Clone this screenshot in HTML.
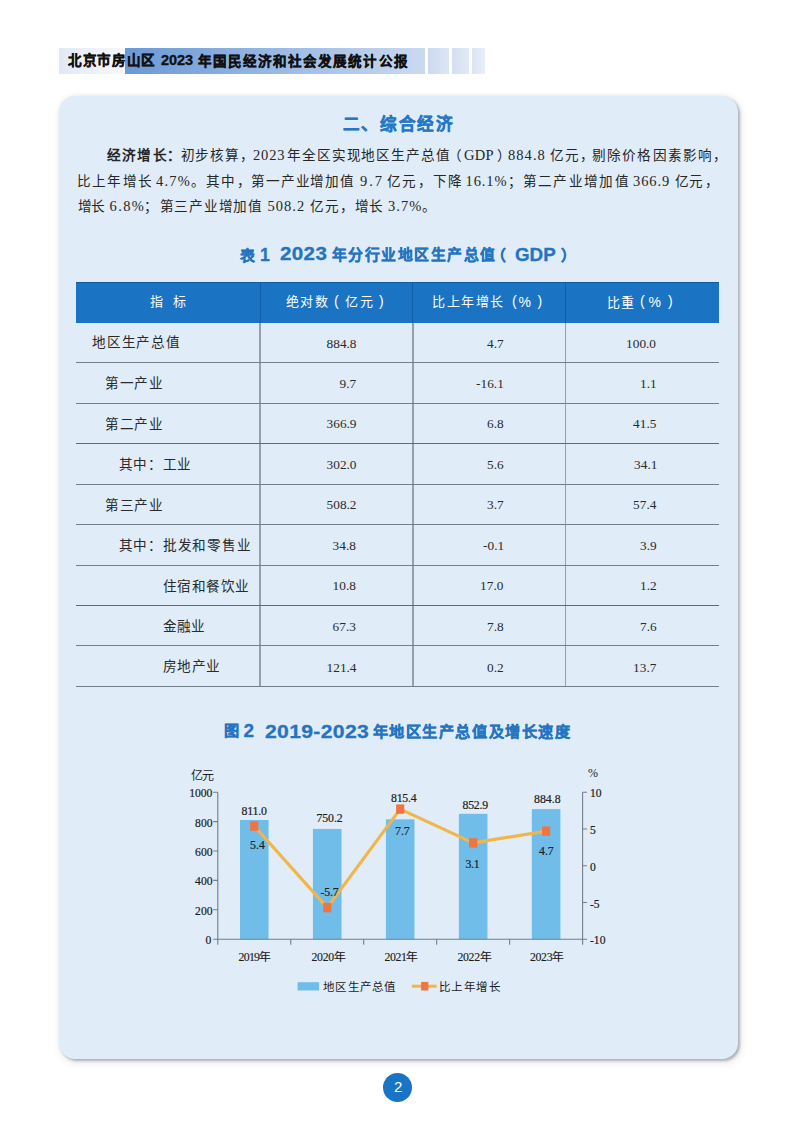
<!DOCTYPE html>
<html lang="zh-CN">
<head>
<meta charset="utf-8">
<style>
html,body{margin:0;padding:0;}
body{width:794px;height:1123px;position:relative;overflow:hidden;background:#fff;}
.abs{position:absolute;}
.t{white-space:nowrap;line-height:1.2;}
</style>
</head>
<body>
<div class="abs" style="left:59px;top:48px;width:66px;height:26px;background:linear-gradient(90deg,#e2e9f6,#f6f8fc);"></div>
<div class="abs" style="left:125px;top:48px;width:299.5px;height:26px;background:linear-gradient(90deg,#6b99d5 0%,#93b5e3 45%,#cbdaf1 100%);"></div>
<div class="abs" style="left:428.2px;top:48px;width:20.6px;height:26px;background:linear-gradient(90deg,#ccd9f0,#dde6f5);"></div>
<div class="abs" style="left:452px;top:48px;width:17px;height:26px;background:linear-gradient(90deg,#d5dff2,#e2e9f6);"></div>
<div class="abs" style="left:471.7px;top:48px;width:13.6px;height:26px;background:linear-gradient(90deg,#dce4f4,#e9eef8);"></div>
<div class="abs" style="left:59px;top:95.5px;width:679px;height:963.5px;background:#e0edf8;border-radius:16px;box-shadow:2px 2px 2.5px rgba(95,105,115,0.42),2px 3px 8px rgba(60,60,60,0.14),0 -1px 4px rgba(60,60,60,0.05);"></div>
<div class="abs" style="left:76px;top:282px;width:643px;height:40.5px;background:#1a74c3;"></div>
<div class="abs" style="left:76px;top:281.5px;width:643px;height:1.2px;background:#0f5b9f;"></div>
<div class="abs" style="left:259.50px;top:282px;width:1.4px;height:40.5px;background:#125ea6;"></div>
<div class="abs" style="left:259.40px;top:322.5px;width:1.6px;height:364px;background:#94a0ab;"></div>
<div class="abs" style="left:412.10px;top:282px;width:1.4px;height:40.5px;background:#125ea6;"></div>
<div class="abs" style="left:412.00px;top:322.5px;width:1.6px;height:364px;background:#94a0ab;"></div>
<div class="abs" style="left:564.80px;top:282px;width:1.4px;height:40.5px;background:#125ea6;"></div>
<div class="abs" style="left:564.70px;top:322.5px;width:1.6px;height:364px;background:#94a0ab;"></div>
<div class="abs" style="left:76px;top:361.85px;width:643px;height:1.1px;background:#737f8a;"></div>
<div class="abs" style="left:76px;top:402.75px;width:643px;height:1.1px;background:#737f8a;"></div>
<div class="abs" style="left:76px;top:442.85px;width:643px;height:1.1px;background:#5f6b76;"></div>
<div class="abs" style="left:76px;top:483.75px;width:643px;height:1.1px;background:#737f8a;"></div>
<div class="abs" style="left:76px;top:524.15px;width:643px;height:1.1px;background:#737f8a;"></div>
<div class="abs" style="left:76px;top:564.85px;width:643px;height:1.1px;background:#737f8a;"></div>
<div class="abs" style="left:76px;top:604.95px;width:643px;height:1.1px;background:#5f6b76;"></div>
<div class="abs" style="left:76px;top:644.95px;width:643px;height:1.1px;background:#737f8a;"></div>
<div class="abs" style="left:76px;top:685.75px;width:643px;height:1.1px;background:#737f8a;"></div>
<svg class="abs" style="left:0;top:0;" width="794" height="1123" viewBox="0 0 794 1123">
<rect x="239.98" y="819.98" width="28.6" height="119.22" fill="#70bdea"/>
<rect x="312.94" y="828.92" width="28.6" height="110.28" fill="#70bdea"/>
<rect x="385.90" y="819.34" width="28.6" height="119.86" fill="#70bdea"/>
<rect x="458.86" y="813.82" width="28.6" height="125.38" fill="#70bdea"/>
<rect x="531.82" y="809.13" width="28.6" height="130.07" fill="#70bdea"/>
<path d="M217.8 792.2 V944.7 M213.20000000000002 939.2 H587.0 M582.6 792.2 V944.7 M213.20000000000002 939.20 H217.8 M213.20000000000002 909.80 H217.8 M213.20000000000002 880.40 H217.8 M213.20000000000002 851.00 H217.8 M213.20000000000002 821.60 H217.8 M213.20000000000002 792.20 H217.8 M582.6 792.20 H587.0 M582.6 828.95 H587.0 M582.6 865.70 H587.0 M582.6 902.45 H587.0 M582.6 939.20 H587.0 M290.76 939.2 V944.7 M363.72 939.2 V944.7 M436.68 939.2 V944.7 M509.64 939.2 V944.7" stroke="#737e89" stroke-width="1.1" fill="none"/>
<polyline points="254.28,826.01 327.24,907.60 400.20,809.11 473.16,842.92 546.12,831.16" stroke="#f2b547" stroke-width="3.2" fill="none" stroke-linejoin="round"/>
<rect x="250.18" y="821.31" width="8.2" height="9.4" fill="#f0743f"/>
<rect x="323.14" y="902.89" width="8.2" height="9.4" fill="#f0743f"/>
<rect x="396.10" y="804.40" width="8.2" height="9.4" fill="#f0743f"/>
<rect x="469.06" y="838.22" width="8.2" height="9.4" fill="#f0743f"/>
<rect x="542.02" y="826.46" width="8.2" height="9.4" fill="#f0743f"/>
<rect x="297.6" y="982.2" width="21.5" height="8.3" fill="#70bdea"/>
<path d="M411.8 986.2 H436.7" stroke="#f2b547" stroke-width="3"/>
<rect x="421.1" y="981.9" width="7.3" height="8.6" fill="#f0743f"/>
</svg>
<div class="abs" style="left:382.6px;top:1072.9px;width:29.4px;height:29.4px;border-radius:50%;background:#1a74c6;"></div>
<div class="abs t" id="hdr" style="left:68.00px;top:53.40px;font-size:13.5px;font-family:'Liberation Sans',sans-serif;font-weight:bold;color:#111;letter-spacing:1.700px;-webkit-text-stroke:0.35px #111;">北京市房山区</div>
<div class="abs t" id="hdr2" style="left:161.00px;top:51.80px;font-size:14.5px;font-family:'Liberation Sans',sans-serif;font-weight:bold;color:#111;letter-spacing:-0.099px;-webkit-text-stroke:0.35px #111;">2023</div>
<div class="abs t" id="hdr3" style="left:198.00px;top:53.80px;font-size:13.5px;font-family:'Liberation Sans',sans-serif;font-weight:bold;color:#111;letter-spacing:2.045px;-webkit-text-stroke:0.35px #111;">年国民经济和社会发展统计公报</div>
<div class="abs t" id="title" style="left:342.50px;top:115.20px;font-size:16.5px;font-family:'Liberation Sans',sans-serif;font-weight:bold;color:#2678c4;letter-spacing:1.720px;-webkit-text-stroke:0.5px #2678c4;">二、综合经济</div>
<div class="abs t" id="p1a" style="left:107.00px;top:148.05px;font-size:13.6px;font-family:'Liberation Sans',sans-serif;font-weight:bold;color:#262626;letter-spacing:1.232px;">经济增长</div>
<div class="abs t" id="p1b" style="left:166.50px;top:148.05px;font-size:13.6px;font-family:'Liberation Sans',sans-serif;font-weight:bold;color:#262626;letter-spacing:0.000px;">：</div>
<div class="abs t" id="p1c" style="left:180.50px;top:148.05px;font-size:13.6px;font-family:'Liberation Serif',serif;font-weight:normal;color:#262626;letter-spacing:0.866px;">初步核算</div>
<div class="abs t" id="p1d" style="left:239.50px;top:148.05px;font-size:13.6px;font-family:'Liberation Serif',serif;font-weight:normal;color:#262626;letter-spacing:0.000px;">，</div>
<div class="abs t" id="p1e" style="left:253.00px;top:147.05px;font-size:14.5px;font-family:'Liberation Serif',serif;font-weight:normal;color:#262626;letter-spacing:0.832px;">2023</div>
<div class="abs t" id="p1f" style="left:287.00px;top:148.05px;font-size:13.6px;font-family:'Liberation Serif',serif;font-weight:normal;color:#262626;letter-spacing:0.900px;">年全区实现地区生产总值</div>
<div class="abs t" id="p1g" style="left:448.00px;top:148.05px;font-size:13.6px;font-family:'Liberation Serif',serif;font-weight:normal;color:#262626;letter-spacing:0.000px;">（</div>
<div class="abs t" id="p1h" style="left:464.00px;top:147.05px;font-size:14.5px;font-family:'Liberation Serif',serif;font-weight:normal;color:#262626;letter-spacing:0.300px;">GDP</div>
<div class="abs t" id="p1i" style="left:496.50px;top:148.05px;font-size:13.6px;font-family:'Liberation Serif',serif;font-weight:normal;color:#262626;letter-spacing:0.000px;">）</div>
<div class="abs t" id="p1j" style="left:508.00px;top:147.05px;font-size:14.5px;font-family:'Liberation Serif',serif;font-weight:normal;color:#262626;letter-spacing:1.050px;">884.8</div>
<div class="abs t" id="p1k" style="left:549.50px;top:148.05px;font-size:13.6px;font-family:'Liberation Serif',serif;font-weight:normal;color:#262626;letter-spacing:1.100px;">亿元</div>
<div class="abs t" id="p1l" style="left:580.00px;top:148.05px;font-size:13.6px;font-family:'Liberation Serif',serif;font-weight:normal;color:#262626;letter-spacing:0.000px;">，</div>
<div class="abs t" id="p1m" style="left:592.00px;top:148.05px;font-size:13.6px;font-family:'Liberation Serif',serif;font-weight:normal;color:#262626;letter-spacing:1.143px;">剔除价格因素影响</div>
<div class="abs t" id="p1n" style="left:712.50px;top:148.05px;font-size:13.6px;font-family:'Liberation Serif',serif;font-weight:normal;color:#262626;letter-spacing:0.000px;">，</div>
<div class="abs t" id="p2a" style="left:76.50px;top:173.55px;font-size:13.6px;font-family:'Liberation Serif',serif;font-weight:normal;color:#262626;letter-spacing:1.400px;">比上年增长</div>
<div class="abs t" id="p2b" style="left:156.00px;top:172.55px;font-size:14.5px;font-family:'Liberation Serif',serif;font-weight:normal;color:#262626;letter-spacing:1.199px;">4.7%</div>
<div class="abs t" id="p2c" style="left:190.50px;top:173.55px;font-size:13.6px;font-family:'Liberation Serif',serif;font-weight:normal;color:#262626;letter-spacing:0.000px;">。</div>
<div class="abs t" id="p2d" style="left:205.50px;top:173.55px;font-size:13.6px;font-family:'Liberation Serif',serif;font-weight:normal;color:#262626;letter-spacing:1.000px;">其中</div>
<div class="abs t" id="p2e" style="left:236.50px;top:173.55px;font-size:13.6px;font-family:'Liberation Serif',serif;font-weight:normal;color:#262626;letter-spacing:0.000px;">，</div>
<div class="abs t" id="p2f" style="left:251.00px;top:173.55px;font-size:13.6px;font-family:'Liberation Serif',serif;font-weight:normal;color:#262626;letter-spacing:0.872px;">第一产业增加值</div>
<div class="abs t" id="p2g" style="left:360.00px;top:172.55px;font-size:14.5px;font-family:'Liberation Serif',serif;font-weight:normal;color:#262626;letter-spacing:1.900px;">9.7</div>
<div class="abs t" id="p2h" style="left:387.00px;top:173.55px;font-size:13.6px;font-family:'Liberation Serif',serif;font-weight:normal;color:#262626;letter-spacing:0.500px;">亿元</div>
<div class="abs t" id="p2i" style="left:417.50px;top:173.55px;font-size:13.6px;font-family:'Liberation Serif',serif;font-weight:normal;color:#262626;letter-spacing:0.000px;">，</div>
<div class="abs t" id="p2j" style="left:433.00px;top:173.55px;font-size:13.6px;font-family:'Liberation Serif',serif;font-weight:normal;color:#262626;letter-spacing:0.800px;">下降</div>
<div class="abs t" id="p2k" style="left:465.50px;top:172.55px;font-size:14.5px;font-family:'Liberation Serif',serif;font-weight:normal;color:#262626;letter-spacing:0.900px;">16.1%</div>
<div class="abs t" id="p2l" style="left:507.50px;top:173.55px;font-size:13.6px;font-family:'Liberation Serif',serif;font-weight:normal;color:#262626;letter-spacing:0.000px;">；</div>
<div class="abs t" id="p2m" style="left:522.50px;top:173.55px;font-size:13.6px;font-family:'Liberation Serif',serif;font-weight:normal;color:#262626;letter-spacing:1.336px;">第二产业增加值</div>
<div class="abs t" id="p2n" style="left:633.00px;top:172.55px;font-size:14.5px;font-family:'Liberation Serif',serif;font-weight:normal;color:#262626;letter-spacing:0.900px;">366.9</div>
<div class="abs t" id="p2o" style="left:674.50px;top:173.55px;font-size:13.6px;font-family:'Liberation Serif',serif;font-weight:normal;color:#262626;letter-spacing:0.600px;">亿元</div>
<div class="abs t" id="p2p" style="left:705.00px;top:173.55px;font-size:13.6px;font-family:'Liberation Serif',serif;font-weight:normal;color:#262626;letter-spacing:0.000px;">，</div>
<div class="abs t" id="p3a" style="left:77.50px;top:198.80px;font-size:13.6px;font-family:'Liberation Serif',serif;font-weight:normal;color:#262626;letter-spacing:-0.100px;">增长</div>
<div class="abs t" id="p3b" style="left:109.50px;top:197.80px;font-size:14.5px;font-family:'Liberation Serif',serif;font-weight:normal;color:#262626;letter-spacing:1.403px;">6.8%</div>
<div class="abs t" id="p3c" style="left:144.00px;top:198.80px;font-size:13.6px;font-family:'Liberation Serif',serif;font-weight:normal;color:#262626;letter-spacing:0.000px;">；</div>
<div class="abs t" id="p3d" style="left:159.50px;top:198.80px;font-size:13.6px;font-family:'Liberation Serif',serif;font-weight:normal;color:#262626;letter-spacing:0.766px;">第三产业增加值</div>
<div class="abs t" id="p3e" style="left:267.50px;top:197.80px;font-size:14.5px;font-family:'Liberation Serif',serif;font-weight:normal;color:#262626;letter-spacing:1.000px;">508.2</div>
<div class="abs t" id="p3f" style="left:309.50px;top:198.80px;font-size:13.6px;font-family:'Liberation Serif',serif;font-weight:normal;color:#262626;letter-spacing:1.000px;">亿元</div>
<div class="abs t" id="p3g" style="left:339.50px;top:198.80px;font-size:13.6px;font-family:'Liberation Serif',serif;font-weight:normal;color:#262626;letter-spacing:0.000px;">，</div>
<div class="abs t" id="p3h" style="left:354.50px;top:198.80px;font-size:13.6px;font-family:'Liberation Serif',serif;font-weight:normal;color:#262626;letter-spacing:0.600px;">增长</div>
<div class="abs t" id="p3i" style="left:388.00px;top:197.80px;font-size:14.5px;font-family:'Liberation Serif',serif;font-weight:normal;color:#262626;letter-spacing:1.002px;">3.7%</div>
<div class="abs t" id="p3j" style="left:422.00px;top:198.80px;font-size:13.6px;font-family:'Liberation Serif',serif;font-weight:normal;color:#262626;letter-spacing:0.000px;">。</div>
<div class="abs t" id="tt1" style="left:240.00px;top:247.60px;font-size:14.8px;font-family:'Liberation Sans',sans-serif;font-weight:bold;color:#2474c2;letter-spacing:0.000px;-webkit-text-stroke:0.3px #2474c2;">表</div>
<div class="abs t" id="tt2" style="left:260.00px;top:244.94px;font-size:17.6px;font-family:'Liberation Sans',sans-serif;font-weight:bold;color:#2474c2;letter-spacing:0.000px;-webkit-text-stroke:0.3px #2474c2;">1</div>
<div class="abs t" id="tt3" style="left:279.50px;top:244.44px;font-size:17.6px;font-family:'Liberation Sans',sans-serif;font-weight:bold;color:#2474c2;letter-spacing:0.300px;-webkit-text-stroke:0.3px #2474c2;transform:scaleX(1.1693);transform-origin:0 0;">2023</div>
<div class="abs t" id="tt4" style="left:332.00px;top:247.10px;font-size:14.8px;font-family:'Liberation Sans',sans-serif;font-weight:bold;color:#2474c2;letter-spacing:1.473px;-webkit-text-stroke:0.3px #2474c2;">年分行业地区生产总值</div>
<div class="abs t" id="tt5" style="left:490.50px;top:247.60px;font-size:14.8px;font-family:'Liberation Sans',sans-serif;font-weight:bold;color:#2474c2;letter-spacing:0.000px;-webkit-text-stroke:0.3px #2474c2;">（</div>
<div class="abs t" id="tt6" style="left:514.50px;top:244.94px;font-size:17.6px;font-family:'Liberation Sans',sans-serif;font-weight:bold;color:#2474c2;letter-spacing:0.000px;-webkit-text-stroke:0.3px #2474c2;transform:scaleX(1.0664);transform-origin:0 0;">GDP</div>
<div class="abs t" id="tt7" style="left:561.00px;top:247.60px;font-size:14.8px;font-family:'Liberation Sans',sans-serif;font-weight:bold;color:#2474c2;letter-spacing:0.000px;-webkit-text-stroke:0.3px #2474c2;">）</div>
<div class="abs t" id="th1" style="left:150.00px;top:294.35px;font-size:13px;font-family:'Liberation Sans',sans-serif;font-weight:normal;color:#ffffff;letter-spacing:0.000px;">指</div>
<div class="abs t" id="th2" style="left:172.50px;top:294.35px;font-size:13px;font-family:'Liberation Sans',sans-serif;font-weight:normal;color:#ffffff;letter-spacing:0.000px;">标</div>
<div class="abs t" id="th3" style="left:285.50px;top:294.35px;font-size:13px;font-family:'Liberation Sans',sans-serif;font-weight:normal;color:#ffffff;letter-spacing:1.700px;">绝对数</div>
<div class="abs t" id="th4" style="left:334.00px;top:293.35px;font-size:14px;font-family:'Liberation Sans',sans-serif;font-weight:normal;color:#ffffff;letter-spacing:0.000px;">(</div>
<div class="abs t" id="th5" style="left:345.00px;top:294.35px;font-size:13px;font-family:'Liberation Sans',sans-serif;font-weight:normal;color:#ffffff;letter-spacing:1.600px;">亿元</div>
<div class="abs t" id="th6" style="left:379.00px;top:293.35px;font-size:14px;font-family:'Liberation Sans',sans-serif;font-weight:normal;color:#ffffff;letter-spacing:0.000px;">)</div>
<div class="abs t" id="th7" style="left:432.00px;top:294.35px;font-size:13px;font-family:'Liberation Sans',sans-serif;font-weight:normal;color:#ffffff;letter-spacing:1.500px;">比上年增长</div>
<div class="abs t" id="th8" style="left:512.00px;top:293.35px;font-size:14px;font-family:'Liberation Sans',sans-serif;font-weight:normal;color:#ffffff;letter-spacing:0.000px;">(</div>
<div class="abs t" id="th9" style="left:518.50px;top:294.35px;font-size:14px;font-family:'Liberation Sans',sans-serif;font-weight:normal;color:#ffffff;letter-spacing:0.000px;">%</div>
<div class="abs t" id="th10" style="left:537.50px;top:293.35px;font-size:14px;font-family:'Liberation Sans',sans-serif;font-weight:normal;color:#ffffff;letter-spacing:0.000px;">)</div>
<div class="abs t" id="th11" style="left:607.00px;top:295.35px;font-size:13px;font-family:'Liberation Sans',sans-serif;font-weight:normal;color:#ffffff;letter-spacing:1.200px;">比重</div>
<div class="abs t" id="th12" style="left:640.00px;top:293.35px;font-size:14px;font-family:'Liberation Sans',sans-serif;font-weight:normal;color:#ffffff;letter-spacing:0.000px;">(</div>
<div class="abs t" id="th13" style="left:648.50px;top:294.35px;font-size:14px;font-family:'Liberation Sans',sans-serif;font-weight:normal;color:#ffffff;letter-spacing:0.000px;">%</div>
<div class="abs t" id="th14" style="left:668.00px;top:293.35px;font-size:14px;font-family:'Liberation Sans',sans-serif;font-weight:normal;color:#ffffff;letter-spacing:0.000px;">)</div>
<div class="abs t" id="r0l" style="left:92.00px;top:335.30px;font-size:13.6px;font-family:'Liberation Serif',serif;font-weight:normal;color:#2a2a2a;letter-spacing:0.800px;">地区生产总值</div>
<div class="abs t" id="r0a" style="left:326.60px;top:336.02px;font-size:13.3px;font-family:'Liberation Serif',serif;font-weight:normal;color:#2a2a2a;letter-spacing:0.000px;">884.8</div>
<div class="abs t" id="r0b" style="left:487.06px;top:336.02px;font-size:13.3px;font-family:'Liberation Serif',serif;font-weight:normal;color:#2a2a2a;letter-spacing:0.000px;">4.7</div>
<div class="abs t" id="r0c" style="left:626.10px;top:336.02px;font-size:13.3px;font-family:'Liberation Serif',serif;font-weight:normal;color:#2a2a2a;letter-spacing:0.000px;">100.0</div>
<div class="abs t" id="r1l" style="left:105.00px;top:376.05px;font-size:13.6px;font-family:'Liberation Serif',serif;font-weight:normal;color:#2a2a2a;letter-spacing:0.597px;">第一产业</div>
<div class="abs t" id="r1a" style="left:339.56px;top:375.77px;font-size:13.3px;font-family:'Liberation Serif',serif;font-weight:normal;color:#2a2a2a;letter-spacing:0.000px;">9.7</div>
<div class="abs t" id="r1b" style="left:476.10px;top:375.77px;font-size:13.3px;font-family:'Liberation Serif',serif;font-weight:normal;color:#2a2a2a;letter-spacing:0.000px;">-16.1</div>
<div class="abs t" id="r1c" style="left:640.06px;top:375.77px;font-size:13.3px;font-family:'Liberation Serif',serif;font-weight:normal;color:#2a2a2a;letter-spacing:0.000px;">1.1</div>
<div class="abs t" id="r2l" style="left:105.00px;top:416.55px;font-size:13.6px;font-family:'Liberation Serif',serif;font-weight:normal;color:#2a2a2a;letter-spacing:0.597px;">第二产业</div>
<div class="abs t" id="r2a" style="left:326.60px;top:416.27px;font-size:13.3px;font-family:'Liberation Serif',serif;font-weight:normal;color:#2a2a2a;letter-spacing:0.000px;">366.9</div>
<div class="abs t" id="r2b" style="left:487.06px;top:416.27px;font-size:13.3px;font-family:'Liberation Serif',serif;font-weight:normal;color:#2a2a2a;letter-spacing:0.000px;">6.8</div>
<div class="abs t" id="r2c" style="left:633.08px;top:416.27px;font-size:13.3px;font-family:'Liberation Serif',serif;font-weight:normal;color:#2a2a2a;letter-spacing:0.000px;">41.5</div>
<div class="abs t" id="r3l" style="left:118.50px;top:457.05px;font-size:13.6px;font-family:'Liberation Serif',serif;font-weight:normal;color:#2a2a2a;letter-spacing:0.700px;">其中：工业</div>
<div class="abs t" id="r3a" style="left:326.60px;top:456.77px;font-size:13.3px;font-family:'Liberation Serif',serif;font-weight:normal;color:#2a2a2a;letter-spacing:0.000px;">302.0</div>
<div class="abs t" id="r3b" style="left:487.06px;top:456.77px;font-size:13.3px;font-family:'Liberation Serif',serif;font-weight:normal;color:#2a2a2a;letter-spacing:0.000px;">5.6</div>
<div class="abs t" id="r3c" style="left:634.08px;top:456.77px;font-size:13.3px;font-family:'Liberation Serif',serif;font-weight:normal;color:#2a2a2a;letter-spacing:0.000px;">34.1</div>
<div class="abs t" id="r4l" style="left:105.00px;top:497.55px;font-size:13.6px;font-family:'Liberation Serif',serif;font-weight:normal;color:#2a2a2a;letter-spacing:0.736px;">第三产业</div>
<div class="abs t" id="r4a" style="left:326.60px;top:497.27px;font-size:13.3px;font-family:'Liberation Serif',serif;font-weight:normal;color:#2a2a2a;letter-spacing:0.000px;">508.2</div>
<div class="abs t" id="r4b" style="left:487.06px;top:497.27px;font-size:13.3px;font-family:'Liberation Serif',serif;font-weight:normal;color:#2a2a2a;letter-spacing:0.000px;">3.7</div>
<div class="abs t" id="r4c" style="left:633.08px;top:497.27px;font-size:13.3px;font-family:'Liberation Serif',serif;font-weight:normal;color:#2a2a2a;letter-spacing:0.000px;">57.4</div>
<div class="abs t" id="r5l" style="left:118.50px;top:538.05px;font-size:13.6px;font-family:'Liberation Serif',serif;font-weight:normal;color:#2a2a2a;letter-spacing:0.750px;">其中：批发和零售业</div>
<div class="abs t" id="r5a" style="left:332.58px;top:537.77px;font-size:13.3px;font-family:'Liberation Serif',serif;font-weight:normal;color:#2a2a2a;letter-spacing:0.000px;">34.8</div>
<div class="abs t" id="r5b" style="left:483.08px;top:537.77px;font-size:13.3px;font-family:'Liberation Serif',serif;font-weight:normal;color:#2a2a2a;letter-spacing:0.000px;">-0.1</div>
<div class="abs t" id="r5c" style="left:640.06px;top:537.77px;font-size:13.3px;font-family:'Liberation Serif',serif;font-weight:normal;color:#2a2a2a;letter-spacing:0.000px;">3.9</div>
<div class="abs t" id="r6l" style="left:162.50px;top:578.55px;font-size:13.6px;font-family:'Liberation Serif',serif;font-weight:normal;color:#2a2a2a;letter-spacing:0.560px;">住宿和餐饮业</div>
<div class="abs t" id="r6a" style="left:332.58px;top:578.27px;font-size:13.3px;font-family:'Liberation Serif',serif;font-weight:normal;color:#2a2a2a;letter-spacing:0.000px;">10.8</div>
<div class="abs t" id="r6b" style="left:480.08px;top:578.27px;font-size:13.3px;font-family:'Liberation Serif',serif;font-weight:normal;color:#2a2a2a;letter-spacing:0.000px;">17.0</div>
<div class="abs t" id="r6c" style="left:640.06px;top:578.27px;font-size:13.3px;font-family:'Liberation Serif',serif;font-weight:normal;color:#2a2a2a;letter-spacing:0.000px;">1.2</div>
<div class="abs t" id="r7l" style="left:162.50px;top:619.05px;font-size:13.6px;font-family:'Liberation Serif',serif;font-weight:normal;color:#2a2a2a;letter-spacing:0.100px;">金融业</div>
<div class="abs t" id="r7a" style="left:332.58px;top:618.77px;font-size:13.3px;font-family:'Liberation Serif',serif;font-weight:normal;color:#2a2a2a;letter-spacing:0.000px;">67.3</div>
<div class="abs t" id="r7b" style="left:487.06px;top:618.77px;font-size:13.3px;font-family:'Liberation Serif',serif;font-weight:normal;color:#2a2a2a;letter-spacing:0.000px;">7.8</div>
<div class="abs t" id="r7c" style="left:640.06px;top:618.77px;font-size:13.3px;font-family:'Liberation Serif',serif;font-weight:normal;color:#2a2a2a;letter-spacing:0.000px;">7.6</div>
<div class="abs t" id="r8l" style="left:162.50px;top:658.80px;font-size:13.6px;font-family:'Liberation Serif',serif;font-weight:normal;color:#2a2a2a;letter-spacing:0.530px;">房地产业</div>
<div class="abs t" id="r8a" style="left:326.60px;top:659.52px;font-size:13.3px;font-family:'Liberation Serif',serif;font-weight:normal;color:#2a2a2a;letter-spacing:0.000px;">121.4</div>
<div class="abs t" id="r8b" style="left:487.06px;top:659.52px;font-size:13.3px;font-family:'Liberation Serif',serif;font-weight:normal;color:#2a2a2a;letter-spacing:0.000px;">0.2</div>
<div class="abs t" id="r8c" style="left:633.08px;top:659.52px;font-size:13.3px;font-family:'Liberation Serif',serif;font-weight:normal;color:#2a2a2a;letter-spacing:0.000px;">13.7</div>
<div class="abs t" id="ct1" style="left:224.00px;top:722.05px;font-size:15.2px;font-family:'Liberation Sans',sans-serif;font-weight:bold;color:#2474c2;letter-spacing:0.000px;-webkit-text-stroke:0.3px #2474c2;">图</div>
<div class="abs t" id="ct2" style="left:243.50px;top:720.35px;font-size:19px;font-family:'Liberation Sans',sans-serif;font-weight:bold;color:#2474c2;letter-spacing:0.000px;-webkit-text-stroke:0.3px #2474c2;">2</div>
<div class="abs t" id="ct3" style="left:264.50px;top:720.85px;font-size:19px;font-family:'Liberation Sans',sans-serif;font-weight:bold;color:#2474c2;letter-spacing:0.300px;-webkit-text-stroke:0.3px #2474c2;transform:scaleX(1.1128);transform-origin:0 0;">2019-2023</div>
<div class="abs t" id="ct4" style="left:372.50px;top:723.29px;font-size:15.2px;font-family:'Liberation Sans',sans-serif;font-weight:bold;color:#2474c2;letter-spacing:1.579px;-webkit-text-stroke:0.3px #2474c2;">年地区生产总值及增长速度</div>
<div class="abs t" id="cy" style="left:191.00px;top:768.80px;font-size:12px;font-family:'Liberation Serif',serif;font-weight:normal;color:#1c1c1c;letter-spacing:-1.000px;">亿元</div>
<div class="abs t" id="cp" style="left:588.00px;top:766.30px;font-size:12px;font-family:'Liberation Serif',serif;font-weight:normal;color:#1c1c1c;letter-spacing:0.000px;">%</div>
<div class="abs t" id="ly1000" style="left:189.16px;top:787.04px;font-size:11.6px;font-family:'Liberation Serif',serif;font-weight:normal;color:#1c1c1c;letter-spacing:0.000px;-webkit-text-stroke:0.2px #1c1c1c;">1000</div>
<div class="abs t" id="ly800" style="left:195.12px;top:816.54px;font-size:11.6px;font-family:'Liberation Serif',serif;font-weight:normal;color:#1c1c1c;letter-spacing:0.000px;-webkit-text-stroke:0.2px #1c1c1c;">800</div>
<div class="abs t" id="ly600" style="left:195.12px;top:845.54px;font-size:11.6px;font-family:'Liberation Serif',serif;font-weight:normal;color:#1c1c1c;letter-spacing:0.000px;-webkit-text-stroke:0.2px #1c1c1c;">600</div>
<div class="abs t" id="ly400" style="left:195.12px;top:875.04px;font-size:11.6px;font-family:'Liberation Serif',serif;font-weight:normal;color:#1c1c1c;letter-spacing:0.000px;-webkit-text-stroke:0.2px #1c1c1c;">400</div>
<div class="abs t" id="ly200" style="left:195.12px;top:904.54px;font-size:11.6px;font-family:'Liberation Serif',serif;font-weight:normal;color:#1c1c1c;letter-spacing:0.000px;-webkit-text-stroke:0.2px #1c1c1c;">200</div>
<div class="abs t" id="ly0" style="left:205.54px;top:934.04px;font-size:11.6px;font-family:'Liberation Serif',serif;font-weight:normal;color:#1c1c1c;letter-spacing:0.000px;-webkit-text-stroke:0.2px #1c1c1c;">0</div>
<div class="abs t" id="ry10" style="left:590.00px;top:786.54px;font-size:11.6px;font-family:'Liberation Serif',serif;font-weight:normal;color:#1c1c1c;letter-spacing:0.000px;-webkit-text-stroke:0.2px #1c1c1c;">10</div>
<div class="abs t" id="ry5" style="left:590.00px;top:824.04px;font-size:11.6px;font-family:'Liberation Serif',serif;font-weight:normal;color:#1c1c1c;letter-spacing:0.000px;-webkit-text-stroke:0.2px #1c1c1c;">5</div>
<div class="abs t" id="ry0" style="left:590.00px;top:860.54px;font-size:11.6px;font-family:'Liberation Serif',serif;font-weight:normal;color:#1c1c1c;letter-spacing:0.000px;-webkit-text-stroke:0.2px #1c1c1c;">0</div>
<div class="abs t" id="ry-5" style="left:590.00px;top:897.54px;font-size:11.6px;font-family:'Liberation Serif',serif;font-weight:normal;color:#1c1c1c;letter-spacing:0.000px;-webkit-text-stroke:0.2px #1c1c1c;">-5</div>
<div class="abs t" id="ry-10" style="left:590.00px;top:934.04px;font-size:11.6px;font-family:'Liberation Serif',serif;font-weight:normal;color:#1c1c1c;letter-spacing:0.000px;-webkit-text-stroke:0.2px #1c1c1c;">-10</div>
<div class="abs t" id="yr2019" style="left:238.50px;top:949.92px;font-size:11.8px;font-family:'Liberation Serif',serif;font-weight:normal;color:#1c1c1c;letter-spacing:-0.700px;-webkit-text-stroke:0.15px #1c1c1c;">2019年</div>
<div class="abs t" id="yr2020" style="left:311.50px;top:949.92px;font-size:11.8px;font-family:'Liberation Serif',serif;font-weight:normal;color:#1c1c1c;letter-spacing:-0.300px;-webkit-text-stroke:0.15px #1c1c1c;">2020年</div>
<div class="abs t" id="yr2021" style="left:384.50px;top:949.92px;font-size:11.8px;font-family:'Liberation Serif',serif;font-weight:normal;color:#1c1c1c;letter-spacing:-0.400px;-webkit-text-stroke:0.15px #1c1c1c;">2021年</div>
<div class="abs t" id="yr2022" style="left:457.50px;top:949.92px;font-size:11.8px;font-family:'Liberation Serif',serif;font-weight:normal;color:#1c1c1c;letter-spacing:-0.350px;-webkit-text-stroke:0.15px #1c1c1c;">2022年</div>
<div class="abs t" id="yr2023" style="left:530.00px;top:949.92px;font-size:11.8px;font-family:'Liberation Serif',serif;font-weight:normal;color:#1c1c1c;letter-spacing:-0.350px;-webkit-text-stroke:0.15px #1c1c1c;">2023年</div>
<div class="abs t" id="v1" style="left:241.50px;top:804.17px;font-size:11.8px;font-family:'Liberation Serif',serif;font-weight:normal;color:#1c1c1c;letter-spacing:-0.150px;-webkit-text-stroke:0.2px #1c1c1c;">811.0</div>
<div class="abs t" id="v2" style="left:316.50px;top:811.42px;font-size:11.8px;font-family:'Liberation Serif',serif;font-weight:normal;color:#1c1c1c;letter-spacing:-0.100px;-webkit-text-stroke:0.2px #1c1c1c;">750.2</div>
<div class="abs t" id="v3" style="left:391.00px;top:790.92px;font-size:11.8px;font-family:'Liberation Serif',serif;font-weight:normal;color:#1c1c1c;letter-spacing:-0.250px;-webkit-text-stroke:0.2px #1c1c1c;">815.4</div>
<div class="abs t" id="v4" style="left:462.50px;top:798.42px;font-size:11.8px;font-family:'Liberation Serif',serif;font-weight:normal;color:#1c1c1c;letter-spacing:-0.250px;-webkit-text-stroke:0.2px #1c1c1c;">852.9</div>
<div class="abs t" id="v5" style="left:534.00px;top:791.92px;font-size:11.8px;font-family:'Liberation Serif',serif;font-weight:normal;color:#1c1c1c;letter-spacing:0.000px;-webkit-text-stroke:0.2px #1c1c1c;">884.8</div>
<div class="abs t" id="g1" style="left:250.00px;top:837.92px;font-size:11.8px;font-family:'Liberation Serif',serif;font-weight:normal;color:#1c1c1c;letter-spacing:0.100px;-webkit-text-stroke:0.2px #1c1c1c;">5.4</div>
<div class="abs t" id="g2" style="left:320.50px;top:885.42px;font-size:11.8px;font-family:'Liberation Serif',serif;font-weight:normal;color:#1c1c1c;letter-spacing:-0.200px;-webkit-text-stroke:0.2px #1c1c1c;">-5.7</div>
<div class="abs t" id="g3" style="left:395.00px;top:824.42px;font-size:11.8px;font-family:'Liberation Serif',serif;font-weight:normal;color:#1c1c1c;letter-spacing:0.000px;-webkit-text-stroke:0.2px #1c1c1c;">7.7</div>
<div class="abs t" id="g4" style="left:465.50px;top:857.42px;font-size:11.8px;font-family:'Liberation Serif',serif;font-weight:normal;color:#1c1c1c;letter-spacing:-0.300px;-webkit-text-stroke:0.2px #1c1c1c;">3.1</div>
<div class="abs t" id="g5" style="left:539.00px;top:843.92px;font-size:11.8px;font-family:'Liberation Serif',serif;font-weight:normal;color:#1c1c1c;letter-spacing:0.000px;-webkit-text-stroke:0.2px #1c1c1c;">4.7</div>
<div class="abs t" id="lg1" style="left:323.00px;top:981.10px;font-size:11.5px;font-family:'Liberation Serif',serif;font-weight:normal;color:#1c1c1c;letter-spacing:1.280px;">地区生产总值</div>
<div class="abs t" id="lg2" style="left:439.00px;top:981.10px;font-size:11.5px;font-family:'Liberation Serif',serif;font-weight:normal;color:#1c1c1c;letter-spacing:1.400px;">比上年增长</div>
<div class="abs t" id="pg" style="left:394.00px;top:1078.00px;font-size:15px;font-family:'Liberation Sans',sans-serif;font-weight:normal;color:#fff;letter-spacing:0.000px;">2</div>
</body>
</html>
